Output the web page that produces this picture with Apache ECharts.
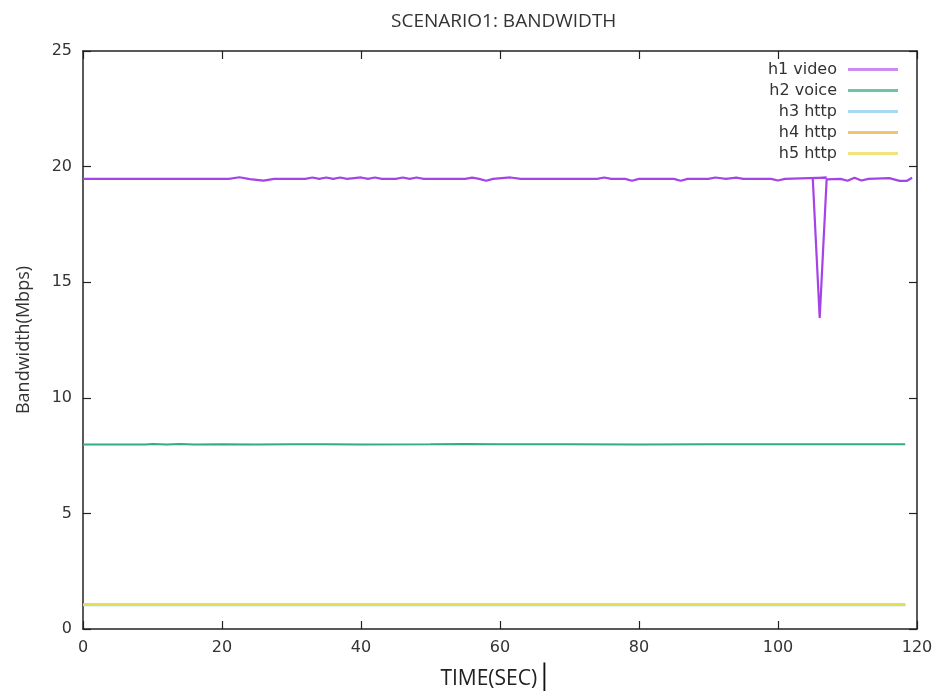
<!DOCTYPE html>
<html>
<head>
<meta charset="utf-8">
<script src="https://cdn.jsdelivr.net/npm/echarts@6/dist/echarts.min.js"></script>
<style>html,body{margin:0;padding:0;background:#fff;}#c{width:940px;height:696px;}</style>
</head>
<body>
<div id="c"></div>
<script>
// ---- data ----
const titleText = 'SCENARIO1: BANDWIDTH';
const xName = 'TIME(SEC)';
const yName = 'Bandwidth(Mbps)';
const seriesNames = ['h1 video', 'h2 voice', 'h3 http', 'h4 http', 'h5 http'];

const videoTime = [0, 9, 21, 22.5, 24, 26, 27.5,
  32, 33, 34, 35, 36, 37, 38,
  40, 41, 42, 43, 45, 46, 47, 48, 49,
  55, 56, 57, 58, 59, 61.5, 63,
  74, 75, 76, 78, 79, 80,
  85, 86, 87,
  90, 91, 92.5, 94, 95, 96,
  99, 100, 101,
  104.5, 107, 105, 106, 107,
  109, 110, 111, 112, 113,
  116, 117.5, 118.5, 119.3];
const videoBw = [19.47, 19.47, 19.47, 19.54, 19.46, 19.39, 19.47,
  19.47, 19.53, 19.47, 19.53, 19.47, 19.53, 19.47,
  19.53, 19.47, 19.53, 19.47, 19.47, 19.53, 19.47, 19.53, 19.47,
  19.47, 19.52, 19.47, 19.39, 19.47, 19.53, 19.47,
  19.47, 19.53, 19.47, 19.47, 19.39, 19.47,
  19.47, 19.39, 19.47,
  19.47, 19.53, 19.47, 19.52, 19.47, 19.47,
  19.47, 19.4, 19.47,
  19.5, 19.52, 19.5, 13.45, 19.45,
  19.47, 19.39, 19.52, 19.4, 19.47,
  19.5, 19.38, 19.38, 19.52];

const voiceTime = [0, 9, 10, 12, 14, 16, 20, 25, 30, 35, 40, 50, 55, 60, 70, 80, 90, 100, 110, 118.3];
const voiceBw = [7.98, 7.98, 8.0, 7.98, 8.0, 7.98, 7.99, 7.98, 7.99, 7.99, 7.98, 7.99, 8.0, 7.99, 7.99, 7.98, 7.99, 7.99, 7.99, 7.99];

const httpTime = [0, 9, 30, 60, 90, 118.3];
const h3Bw = [1.04, 1.04, 1.04, 1.04, 1.04, 1.04];
const h4Bw = [1.05, 1.05, 1.05, 1.05, 1.05, 1.05];
const h5Bw = [1.05, 1.05, 1.05, 1.05, 1.05, 1.05];

const xTicks = [0, 20, 40, 60, 80, 100, 120];
const yTicks = [0, 5, 10, 15, 20, 25];

// ---- styling ----
const lineColors = ['#a544e6', '#2fae86', '#8ecbee', '#eeb440', '#e8dc52'];
const legendColors = ['#cb8bf0', '#6cc6a4', '#a8d8f2', '#f2c46b', '#efe57a'];
const lineWidths = [2.2, 2, 2.5, 2.5, 2.5];

function pairs(t, v) { return t.map((x, i) => [x, v[i]]); }
const seriesData = [pairs(videoTime, videoBw), pairs(voiceTime, voiceBw),
  pairs(httpTime, h3Bw), pairs(httpTime, h4Bw), pairs(httpTime, h5Bw)];

const chart = echarts.init(document.getElementById('c'), null, {renderer: 'canvas'});
const axisLine = {show: true, onZero: false, lineStyle: {color: '#222', width: 1.5}};
const tick = {show: true, inside: true, length: 8, lineStyle: {color: '#222', width: 1.2}};
const labelFont = {fontFamily: 'DejaVu Sans', fontSize: 16, color: '#333'};

const xMin = xTicks[0], xMax = xTicks[xTicks.length - 1], xInt = xTicks[1] - xTicks[0];
const yMin = yTicks[0], yMax = yTicks[yTicks.length - 1], yInt = yTicks[1] - yTicks[0];

chart.setOption({
  animation: false,
  backgroundColor: '#fff',
  title: {
    text: titleText, left: 386, top: 7,
    textStyle: {fontFamily: 'Open Sans', fontSize: 19, fontWeight: 'normal', color: '#333'}
  },
  grid: {left: 83, right: 23, top: 51, bottom: 64, containLabel: false},
  legend: {
    orient: 'vertical', right: 37, top: 54, align: 'right',
    icon: 'rect', itemWidth: 50, itemHeight: 3, itemGap: 0,
    textStyle: {fontFamily: 'DejaVu Sans', fontSize: 16, color: '#333', lineHeight: 21, padding: [0, 6, 0, 0]},
    data: seriesNames.map((n, i) => ({name: n, itemStyle: {color: legendColors[i]}}))
  },
  xAxis: [{
    type: 'value', min: xMin, max: xMax, interval: xInt, position: 'bottom',
    name: '{a|' + xName + '}{c|│}', nameLocation: 'middle', nameGap: 38,
    nameTextStyle: {rich: {
      a: {fontFamily: 'Open Sans', fontSize: 21, color: '#222'},
      c: {fontFamily: 'DejaVu Sans', fontSize: 24, color: '#111'}
    }, padding: [0, 8, 0, 0]},
    axisLine: axisLine, axisTick: tick, splitLine: {show: false},
    axisLabel: Object.assign({margin: 11}, labelFont)
  }, {
    type: 'value', min: xMin, max: xMax, interval: xInt, position: 'top',
    axisLine: axisLine, axisTick: tick, splitLine: {show: false}, axisLabel: {show: false}
  }],
  yAxis: [{
    type: 'value', min: yMin, max: yMax, interval: yInt, position: 'left',
    name: yName, nameLocation: 'middle', nameGap: 50,
    nameTextStyle: {fontFamily: 'Open Sans', fontSize: 18, color: '#333'},
    axisLine: axisLine, axisTick: tick, splitLine: {show: false},
    axisLabel: Object.assign({margin: 11}, labelFont)
  }, {
    type: 'value', min: yMin, max: yMax, interval: yInt, position: 'right',
    axisLine: axisLine, axisTick: tick, splitLine: {show: false}, axisLabel: {show: false}
  }],
  series: seriesNames.map((n, i) => ({
    name: n, type: 'line', xAxisIndex: 0, yAxisIndex: 0,
    data: seriesData[i], showSymbol: false, symbol: 'none',
    lineStyle: {color: lineColors[i], width: lineWidths[i]},
    itemStyle: {color: lineColors[i]}
  }))
});
</script>
</body>
</html>
